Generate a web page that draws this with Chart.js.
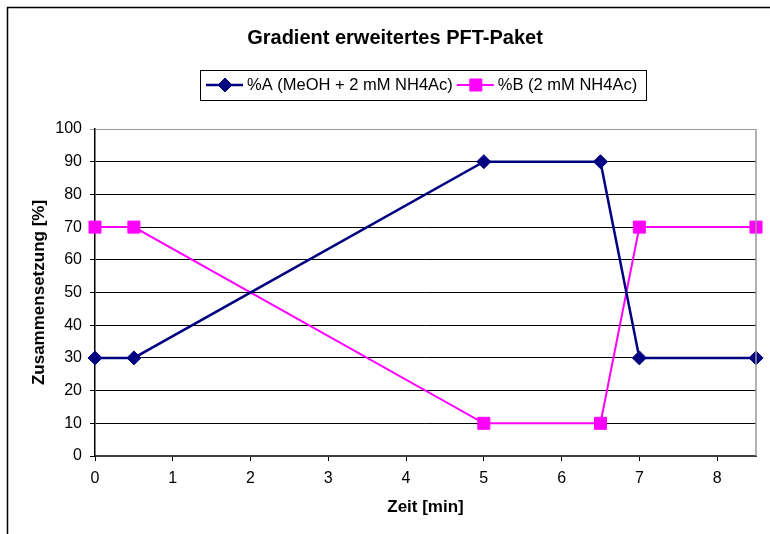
<!DOCTYPE html>
<html>
<head>
<meta charset="utf-8">
<script src="https://cdn.jsdelivr.net/npm/chart.js@4/dist/chart.umd.min.js"></script>
<style>
  html, body { margin: 0; padding: 0; background: #fff; overflow: hidden; }
  #wrap { width: 770px; height: 534px; }
</style>
</head>
<body>
<div id="wrap"><canvas id="chart" width="770" height="534"></canvas></div>
<script>
const FONT = "Arial, 'Liberation Sans', sans-serif";

// gradient program: time in minutes, composition in %
const zeit = [0, 0.5, 5, 6.5, 7, 8.5];
const anteilA = [30, 30, 90, 90, 30, 30];
const anteilB = [70, 70, 10, 10, 70, 70];
const labelA = '%A (MeOH + 2 mM NH4Ac)';
const labelB = '%B (2 mM NH4Ac)';
const titel = 'Gradient erweitertes PFT-Paket';

const toPoints = (ys) => zeit.map((x, i) => ({ x: x, y: ys[i] }));

// outer frame, title and boxed legend drawn by hand
const rahmen = {
    id: 'rahmen',
    beforeDraw(chart) {
        const ctx = chart.ctx;
        ctx.save();
        ctx.strokeStyle = '#000';
        ctx.lineWidth = 1.5;
        ctx.strokeRect(7.5, 7.5, 900, 700);
        ctx.restore();
    },
    afterDraw(chart) {
        const ctx = chart.ctx;
        const area = chart.chartArea;
        ctx.save();

        // right plot border
        ctx.strokeStyle = '#999';
        ctx.lineWidth = 1.5;
        ctx.beginPath();
        ctx.moveTo(area.right, area.top);
        ctx.lineTo(area.right, area.bottom);
        ctx.stroke();

        ctx.fillStyle = '#000';
        ctx.font = 'bold 20px ' + FONT;
        ctx.textAlign = 'center';
        ctx.textBaseline = 'middle';
        ctx.fillText(titel, 395, 38);

        // legend box
        ctx.strokeStyle = '#000';
        ctx.lineWidth = 1;
        ctx.strokeRect(200.5, 70.5, 446, 30);

        ctx.font = '16.5px ' + FONT;
        ctx.textAlign = 'left';
        let x = 206;
        const y = 85;
        chart.data.datasets.forEach((ds) => {
            ctx.strokeStyle = ds.borderColor;
            ctx.lineWidth = ds.borderWidth;
            ctx.beginPath();
            ctx.moveTo(x, y);
            ctx.lineTo(x + 37, y);
            ctx.stroke();
            ctx.fillStyle = ds.backgroundColor;
            ctx.lineWidth = 1;
            Chart.helpers.drawPoint(ctx, {
                pointStyle: ds.pointStyle,
                radius: ds.pointRadius,
                rotation: 0,
                borderWidth: 1
            }, x + 19, y);
            ctx.fillStyle = '#000';
            ctx.fillText(ds.label, x + 41, y);
            x += 41 + ctx.measureText(ds.label).width + 4;
        });
        ctx.restore();
    }
};

new Chart(document.getElementById('chart'), {
    type: 'scatter',
    data: {
        datasets: [
            {
                label: labelA,
                data: toPoints(anteilA),
                showLine: true,
                borderColor: '#000080',
                backgroundColor: '#000080',
                borderWidth: 2.5,
                pointStyle: 'rectRot',
                pointRadius: 7,
                pointHoverRadius: 7,
                pointBorderWidth: 1,
                clip: false
            },
            {
                label: labelB,
                data: toPoints(anteilB),
                showLine: true,
                borderColor: '#FF00FF',
                backgroundColor: '#FF00FF',
                borderWidth: 2,
                pointStyle: 'rect',
                pointRadius: 8.5,
                pointHoverRadius: 8.5,
                pointBorderWidth: 1,
                clip: false
            }
        ]
    },
    options: {
        responsive: false,
        animation: false,
        layout: { padding: { top: 129, right: 14, left: 0, bottom: 0 } },
        plugins: {
            legend: { display: false },
            tooltip: { enabled: false }
        },
        scales: {
            x: {
                type: 'linear',
                min: 0,
                max: 8.5,
                afterFit: (s) => { s.height = 78; },
                ticks: {
                    stepSize: 1,
                    includeBounds: false,
                    color: '#000',
                    font: { family: FONT, size: 16 },
                    padding: 8
                },
                grid: { drawOnChartArea: false, color: '#000', tickLength: 5 },
                border: { color: '#404040', width: 2 },
                title: {
                    display: true,
                    text: 'Zeit [min]',
                    color: '#000',
                    font: { family: FONT, size: 17, weight: 'bold' },
                    padding: { bottom: 16 }
                }
            },
            y: {
                min: 0,
                max: 100,
                afterFit: (s) => { s.width = 95; },
                ticks: {
                    stepSize: 10,
                    color: '#000',
                    font: { family: FONT, size: 16 },
                    padding: 8
                },
                grid: {
                    color: (c) => (c.tick && c.tick.value === 100 ? '#999' : '#000'),
                    lineWidth: 1,
                    tickLength: 5
                },
                border: { color: '#000', width: 1.5 },
                title: {
                    display: true,
                    text: 'Zusammensetzung [%]',
                    color: '#000',
                    font: { family: FONT, size: 17, weight: 'bold' },
                    padding: { top: 29 }
                }
            }
        }
    },
    plugins: [rahmen]
});
</script>
</body>
</html>
